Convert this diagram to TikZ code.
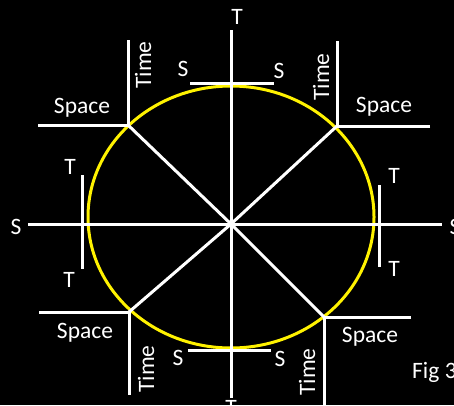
\documentclass[tikz,border=0pt]{standalone}
\usepackage{fontspec}
\setmainfont{Carlito}
\usetikzlibrary{positioning}

\begin{document}
\begin{tikzpicture}[
  x=1pt, y=-1pt,
  axis/.style={draw=white, line width=3pt},
  circ/.style={draw=yellow, line width=3pt},
  lbl/.style={text=white, font=\fontsize{23.5}{27}\selectfont, inner sep=0pt, anchor=base}
]
  \fill[black] (0,0) rectangle (454,405);
  \useasboundingbox (0,0) rectangle (454,405);
  \clip (0,0) rectangle (454,405);

  % centre, frame corners on the ellipse
  \coordinate (O) at (231,224);
  \coordinate (ul) at (128,125);
  \coordinate (ur) at (337,126);
  \coordinate (ll) at (129,312);
  \coordinate (lr) at (324,317);

  % main axes
  \coordinate (xl) at (28,224);
  \coordinate (xr) at (442,224);
  \coordinate (yt) at (231,30);
  \coordinate (yb) at (231,398);

  \draw[circ] (231,217) ellipse [x radius=143, y radius=131];

  \draw[axis] (xl) -- (xr);
  \draw[axis] (yt) -- (yb);
  \path[axis] (O) edge (ul) edge (ur) edge (ll) edge (lr);

  % tick marks
  \coordinate (tl1) at (190,83);  \coordinate (tl2) at (274,83);
  \coordinate (bl1) at (188,350); \coordinate (bl2) at (271,350);
  \coordinate (lt1) at (82,175);  \coordinate (lt2) at (82,269);
  \coordinate (rt1) at (379,185); \coordinate (rt2) at (379,267);
  \draw[axis] (tl1) -- (tl2);
  \draw[axis] (bl1) -- (bl2);
  \draw[axis] (lt1) -- (lt2);
  \draw[axis] (rt1) -- (rt2);

  % space / time frames
  \coordinate (ulh) at (38,125);  \coordinate (ulv) at (128,40);
  \coordinate (urh) at (430,126); \coordinate (urv) at (337,41);
  \coordinate (llh) at (39,312);  \coordinate (llv) at (129,395);
  \coordinate (lrh) at (411,317); \coordinate (lrv) at (324,405);
  \draw[axis] (ulh) -- (ul) -- (ulv);
  \draw[axis] (urh) -- (ur) -- (urv);
  \draw[axis] (llh) -- (ll) -- (llv);
  \draw[axis] (lrh) -- (lr) -- (lrv);

  \node[lbl] (sp1) at (82,113) {Space};
  \node[lbl] (sp2) at (384,112) {Space};
  \node[lbl] (sp3) at (85,338) {Space};
  \node[lbl] (sp4) at (370,342) {Space};

  \node[lbl, anchor=center, rotate=90] (tm1) at (143,65) {Time};
  \node[lbl, anchor=center, rotate=90] (tm2) at (321,77) {Time};
  \node[lbl, anchor=center, rotate=90] (tm3) at (146,369) {Time};
  \node[lbl, anchor=center, rotate=90] (tm4) at (307,372) {Time};

  % axis letters
  \node[lbl] (s1) at (183,76) {S};
  \node[lbl] (s2) at (279,78) {S};
  \node[lbl] (s3) at (16,234) {S};
  \node[lbl] (s4) at (455,234) {S};
  \node[lbl] (s5) at (178,365) {S};
  \node[lbl] (s6) at (280,366) {S};

  \node[lbl] (t1) at (237,24) {T};
  \node[lbl] (t2) at (70,174) {T};
  \node[lbl] (t3) at (69,287) {T};
  \node[lbl] (t4) at (394,183) {T};
  \node[lbl] (t5) at (394,276) {T};
  \node[lbl] (t6) at (231,415) {T};

  \node[lbl, anchor=base west] (fig) at (412,378) {Fig 3};
\end{tikzpicture}
\end{document}
